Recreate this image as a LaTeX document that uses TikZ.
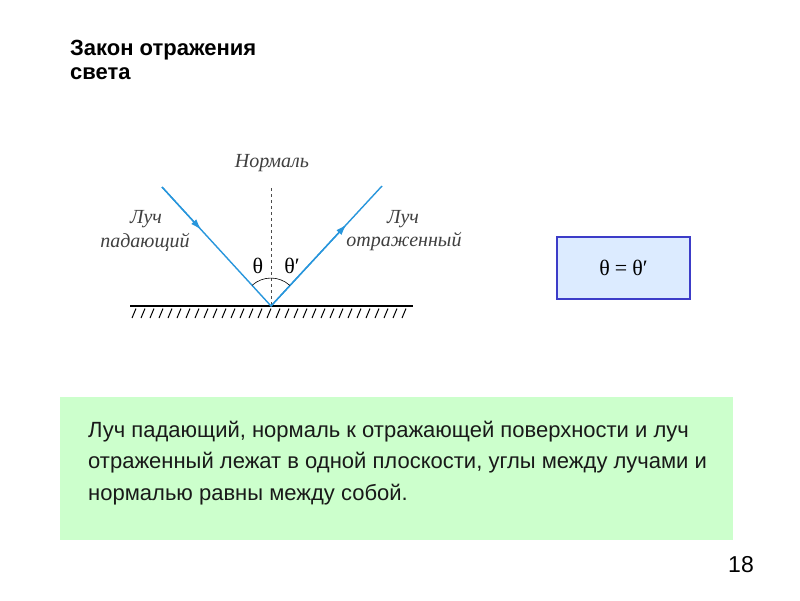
\documentclass[tikz,border=0pt]{standalone}
\usepackage{fontspec}
\setmainfont{Liberation Sans}
\newfontfamily\serif{Liberation Serif}
\usetikzlibrary{arrows.meta,calc}
\definecolor{raycol}{RGB}{40,150,220}
\definecolor{boxb}{RGB}{60,60,200}
\definecolor{boxf}{RGB}{220,235,255}
\definecolor{greenf}{RGB}{204,255,204}
\tikzset{
  raystyle/.style={draw=raycol, line width=1.4pt},
  lbl/.style={font=\serif\itshape\fontsize{20}{22}\selectfont, text=black!75, inner sep=0},
  ang/.style={font=\serif\fontsize{22}{24}\selectfont, inner sep=0},
  para/.style={font=\fontsize{22}{24}\selectfont, anchor=base west, inner sep=0, text=black!90},
  ttl/.style={font=\fontsize{22}{24}\selectfont\bfseries, anchor=base west, inner sep=0}
}
\begin{document}
\begin{tikzpicture}[x=1pt,y=-1pt]
\useasboundingbox (0,0) rectangle (800,600);
\fill[white] (0,0) rectangle (800,600);
% title
\node[ttl] (t1) at (70,55) {Закон отражения};
\node[ttl] (t2) at (70,79) {света};
% geometry
\coordinate (O) at (271,306);
\coordinate (A) at (162,187);
\coordinate (B) at (382,186);
\coordinate (N) at (271,188);
\coordinate (SL) at (130,306);
\coordinate (SR) at (413,306);
\draw[line width=1.8pt] (SL) -- (SR);
\foreach \x in {132,141,...,410} \draw[line width=1pt] (\x,318) -- (\x+4,308.5);
\draw[dashed, line width=0.6pt, black!70] (N) -- (O);
\draw[raystyle] (A) -- (O) -- (B);
\draw[raystyle, -{Latex[length=11pt,width=7pt]}] (A) -- ($(A)!0.36!(O)$);
\draw[raystyle, -{Latex[length=11pt,width=7pt]}] (O) -- ($(O)!0.68!(B)$);
\draw[line width=0.6pt] ($(O)+(-19,-20.6)$) arc[start angle=-132.5, end angle=-47.5, radius=28];
\node[lbl] (nl) at (272,163) {Нормаль};
\node[lbl] (l1) at (146,219) {Луч};
\node[lbl] (l2) at (145,242) {падающий};
\node[lbl] (r1) at (403,219) {Луч};
\node[lbl] (r2) at (404,242) {отраженный};
\node[ang] (th) at (258,266) {θ};
\node[ang] (thp) at (292,266) {θ′};
% equation box
\node[draw=boxb, fill=boxf, line width=1.5pt, minimum width=133pt, minimum height=62pt, font=\serif\fontsize{22}{24}\selectfont] (eq) at (623.5,268) {θ\kern5pt=\kern5ptθ′};
% green box
\node[fill=greenf, minimum width=673pt, minimum height=143pt, anchor=north west, inner sep=0] (gb) at (60,397) {};
\node[para] (p1) at (88,437) {Луч падающий, нормаль к отражающей поверхности и луч};
\node[para] (p2) at (88,468) {отраженный лежат в одной плоскости, углы между лучами и};
\node[para] (p3) at (88,500) {нормалью равны между собой.};
\node[font=\fontsize{23}{26}\selectfont, anchor=base, inner sep=0] (pg) at (741,572) {18};
\end{tikzpicture}
\end{document}
